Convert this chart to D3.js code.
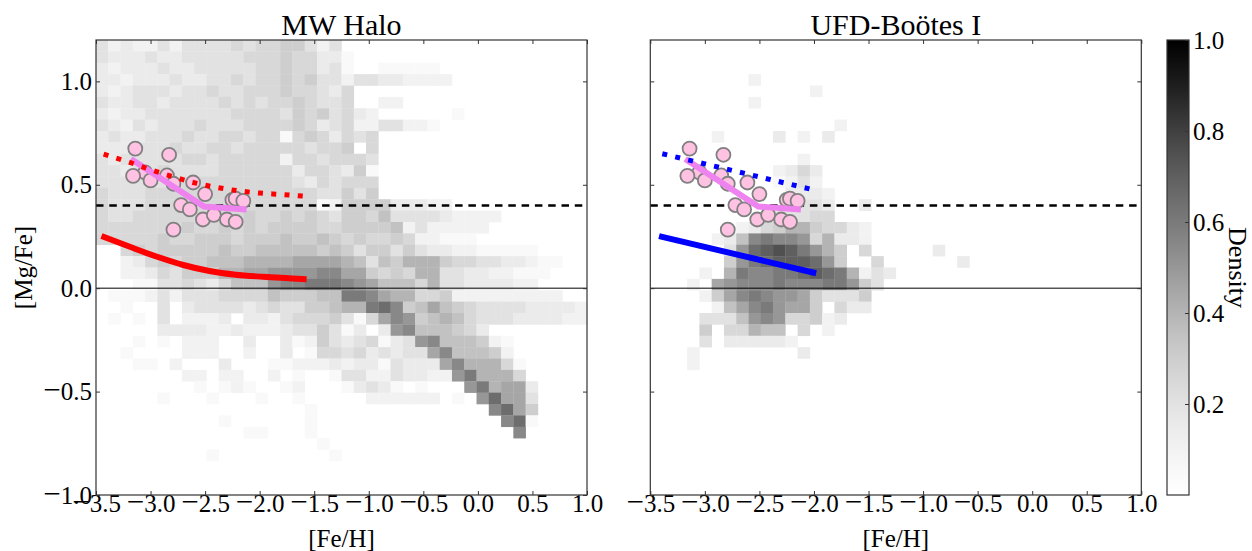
<!DOCTYPE html>
<html>
<head>
<meta charset="utf-8">
<script src="https://cdn.jsdelivr.net/npm/d3@7"></script>
<style>
  body { margin: 0; background: #fff; }
  text { font-family: "Liberation Serif", "Times New Roman", serif; fill: #000; }
</style>
</head>
<body>
<svg id="chart" width="1252" height="551"></svg>
<script>
// tick values
var feTicks = [-3.5, -3.0, -2.5, -2.0, -1.5, -1.0, -0.5, 0.0, 0.5, 1.0];
var mgTicks = [-1.0, -0.5, 0.0, 0.5, 1.0];
var cbarTicks = [0.2, 0.4, 0.6, 0.8, 1.0];

// 2D histograms, 40 x 40 bins over [Fe/H] -3.5..1.0 and [Mg/Fe] 1.2..-1.0 (top row first)
// each char is the density in units of 1/20 (base 36), 0 = empty bin
var mwGrid = [
  "4232242444454556642400000000000000000000",
  "4333433444445556553310000000000000000000",
  "3233343344444556553410011111000000000000",
  "3323334334454556564424433222200000000000",
  "3234443445445556554350000000000000000000",
  "4334434444545455654450022000000000000000",
  "3233444444455554656453200000010000000000",
  "4324344454445555653452244221000000000000",
  "3433444544554551565354500000000000000000",
  "3334445445545555545560500000000000000000",
  "4344444554555552554555400000000000000000",
  "4434454444555555355436100000000000000000",
  "4444444555555555435455500000000000000000",
  "5444555555555555554464600000000000000000",
  "5444555555555555551266663332200000000000",
  "5445555555556556565466574444322220000000",
  "5555555655656566665566667242222200000000",
  "5555565566656667667656556522111000000000",
  "0056566666766777776764664643322111110000",
  "0023565667778888999987476888655443321100",
  "00223546668899aaaabb99656588443322111000",
  "00011445435777abbcccba977758443333220000",
  "01112424445555766677ccb98855622222222200",
  "0010040344443454466788cdb679765444433332",
  "010104022230332455564159ba67875444333322",
  "000003333223222344641303ab77765300000000",
  "00010102220030031264345134ab777621000000",
  "0010000222002003015545343449b77762000000",
  "00011020003000112223233143339b8885100000",
  "00000002202200201001442243322ac888500000",
  "000000001012100120001343101000ac89930000",
  "0000010001000100100000222222010ad9940000",
  "00000000000000000100000000000000bd960000",
  "000000000010000001000000000000000bd10000",
  "0000000000001100010000000000000000b00000",
  "0000000000000000001000000000000000000000",
  "0000000001000000000100000000000000000000",
  "0000000000000000000000000000000000000000",
  "0000000000000000000000000000000000000000",
  "0000000000000000000000000000000000000000"
];

var booGrid = [
  "0000000000000000000000000000000000000000",
  "0000000000000000000000000000000000000000",
  "0000000000000000000000000000000000000000",
  "0000000020000000000000000000000000000000",
  "0000000000000200000000000000000000000000",
  "0000000020000000000000000000000000000000",
  "0000000000000000000000000000000000000000",
  "0000000000000002000000000000000000000000",
  "0000020000302030000000000000000000000000",
  "0000000000000000000000000000000000000000",
  "0000000000002000000000000000000000000000",
  "0000000000235300000000000000000000000000",
  "0000000000124200000000000000000000000000",
  "0000000000033320000000000000000000000000",
  "0000000000004430030000000000000000000000",
  "0000000003444550000000000000000000000000",
  "0000000235688655320000000000000000000000",
  "00000237bcbba583320000000000000000000000",
  "0000004adefeca86050000030000000000000000",
  "0000006acdeeeda6005000000300000000000000",
  "0000208cbbccdedc824300000000000000000000",
  "000209abbbcbbbcca64000000000000000000000",
  "0000269bcbaa9644460000000000000000000000",
  "00000279bca99605330000000000000000000000",
  "00004447aba55623000000000000000000000000",
  "0000605587705020000000000000000000000000",
  "0000403333320000000000000000000000000000",
  "0002000000003000000000000000000000000000",
  "0002000000000000000000000000000000000000",
  "0000000000000000000000000000000000000000",
  "0000000000000000000000000000000000000000",
  "0000000000000000000000000000000000000000",
  "0000000000000000000000000000000000000000",
  "0000000000000000000000000000000000000000",
  "0000000000000000000000000000000000000000",
  "0000000000000000000000000000000000000000",
  "0000000000000000000000000000000000000000",
  "0000000000000000000000000000000000000000",
  "0000000000000000000000000000000000000000",
  "0000000000000000000000000000000000000000"
];

// Boötes I stars (same in both panels)
var starsFe = [-3.14, -2.83, -3.05, -3.16, -3.00, -2.85, -2.79, -2.61, -2.50, -2.72, -2.64, -2.52, -2.42, -2.30, -2.22, -2.25, -2.22, -2.15, -2.79];
var starsMg = [0.675, 0.645, 0.560, 0.543, 0.521, 0.545, 0.505, 0.511, 0.455, 0.402, 0.381, 0.332, 0.354, 0.332, 0.321, 0.427, 0.433, 0.422, 0.283];

// running mean of the stars
var trendFe = [-3.18, -2.51, -2.12];
var trendMg = [0.625, 0.395, 0.381];

// MW halo model (solid) and canonical yields (dotted)
var mwModelFe = [-3.45, -3.19, -2.94, -2.70, -2.46, -2.22, -1.97, -1.57];
var mwModelMg = [0.252, 0.200, 0.152, 0.112, 0.083, 0.065, 0.055, 0.043];
var mwCanonFe = [-3.43, -3.20, -3.00, -2.80, -2.60, -2.40, -2.20, -2.00, -1.80, -1.60];
var mwCanonMg = [0.648, 0.610, 0.573, 0.540, 0.510, 0.488, 0.471, 0.460, 0.453, 0.445];

// Boötes I model (solid) and canonical yields (dotted)
var booModelFe = [-3.42, -1.98];
var booModelMg = [0.252, 0.072];
var booCanonFe = [-3.39, -2.00];
var booCanonMg = [0.650, 0.475];

var W = 491, H = 455, plotTop = 40;
var nBins = 40;
var binFe = 4.5 / nBins, binMg = 2.2 / nBins;

var svg = d3.select("#chart");

var x = d3.scaleLinear().domain([-3.5, 1.0]).range([0, W]);
var y = d3.scaleLinear().domain([-1.0, 1.2]).range([H, 0]);
var color = d3.scaleSequential(d3.interpolateGreys).domain([0, 1]);
var fmt = d3.format(".1f");

// long minus like the mathtext one
function styleTicks(sel) {
  sel.each(function(d) {
    var s = fmt(d), t = d3.select(this);
    t.attr("fill", "#000").style("font-family", "Liberation Serif").style("font-size", "25px");
    if (s[0] === "\u2212") {
      t.text(null);
      t.append("tspan").style("font-size", "31px").text("\u2212");
      t.append("tspan").text(s.slice(1));
    }
  });
}

var panels = [
  {x0: 96, title: "MW Halo", grid: mwGrid, yLabels: true,
   model: d3.zip(mwModelFe, mwModelMg), canon: d3.zip(mwCanonFe, mwCanonMg), col: "#ff0000"},
  {x0: 650.3, title: "UFD-Bo\u00f6tes I", grid: booGrid, yLabels: false,
   model: d3.zip(booModelFe, booModelMg), canon: d3.zip(booCanonFe, booCanonMg), col: "#0000ff"}
];

var line = d3.line()
  .x(function(d) { return x(d[0]); })
  .y(function(d) { return y(d[1]); });

panels.forEach(function(p) {
  var g = svg.append("g").attr("transform", "translate(" + p.x0 + "," + plotTop + ")");

  // histogram cells
  var cells = [];
  p.grid.forEach(function(row, r) {
    for (var c = 0; c < row.length; c++) {
      var v = parseInt(row[c], 36) / 20;
      if (v > 0) cells.push({fe: -3.5 + c * binFe, mg: 1.2 - r * binMg, v: v});
    }
  });
  g.selectAll(".cell")
      .data(cells)
    .enter().append("rect")
      .attr("class", "cell")
      .attr("x", function(d) { return x(d.fe); })
      .attr("y", function(d) { return y(d.mg); })
      .attr("width", function(d) { return x(d.fe + binFe) - x(d.fe) + 0.3; })
      .attr("height", function(d) { return y(d.mg - binMg) - y(d.mg) + 0.3; })
      .attr("fill", function(d) { return color(d.v); });

  // reference lines
  g.append("line")
      .attr("x1", 0).attr("x2", W)
      .attr("y1", y(0)).attr("y2", y(0))
      .attr("stroke", "#000").attr("stroke-width", 1);
  g.append("line")
      .attr("x1", 0).attr("x2", W)
      .attr("y1", y(0.4)).attr("y2", y(0.4))
      .attr("stroke", "#000").attr("stroke-width", 2.5)
      .attr("stroke-dasharray", "7.5,5.8");

  // stars
  g.selectAll(".star")
      .data(d3.zip(starsFe, starsMg))
    .enter().append("circle")
      .attr("class", "star")
      .attr("cx", function(d) { return x(d[0]); })
      .attr("cy", function(d) { return y(d[1]); })
      .attr("r", 7)
      .attr("fill", "#ffc2e2")
      .attr("stroke", "#808080")
      .attr("stroke-width", 1.8);

  // model lines
  g.append("path")
      .attr("d", line.curve(d3.curveMonotoneX)(p.model))
      .attr("fill", "none").attr("stroke", p.col).attr("stroke-width", 6);
  g.append("path")
      .attr("d", line.curve(d3.curveLinear)(d3.zip(trendFe, trendMg)))
      .attr("fill", "none").attr("stroke", "#ee82ee").attr("stroke-width", 6);
  g.append("path")
      .attr("d", line.curve(d3.curveMonotoneX)(p.canon))
      .attr("fill", "none").attr("stroke", p.col).attr("stroke-width", 5)
      .attr("stroke-dasharray", "5,8.3");

  // axes, ticks inward on all sides
  var xb = g.append("g")
      .attr("transform", "translate(0," + H + ")")
      .call(d3.axisBottom(x).tickValues(feTicks).tickSize(-4).tickPadding(0).tickFormat(fmt));
  xb.selectAll("text").attr("dy", "0.68em").call(styleTicks);
  g.append("g")
      .call(d3.axisTop(x).tickValues(feTicks).tickSize(-4).tickFormat(""));
  var yl = g.append("g")
      .call(d3.axisLeft(y).tickValues(mgTicks).tickSize(-4).tickPadding(4)
        .tickFormat(p.yLabels ? fmt : ""));
  if (p.yLabels) yl.selectAll("text").call(styleTicks);
  g.append("g")
      .attr("transform", "translate(" + W + ",0)")
      .call(d3.axisRight(y).tickValues(mgTicks).tickSize(-4).tickFormat(""));
  g.selectAll(".domain").remove();
  g.selectAll(".tick line").attr("stroke", "#333");

  g.append("rect")
      .attr("width", W).attr("height", H)
      .attr("fill", "none").attr("stroke", "#333").attr("stroke-width", 1.2);

  g.append("text")
      .attr("x", W / 2).attr("y", -5)
      .attr("text-anchor", "middle")
      .style("font-size", "30px")
      .text(p.title);
  g.append("text")
      .attr("x", W / 2).attr("y", 507)
      .attr("text-anchor", "middle")
      .style("font-size", "25px")
      .text("[Fe/H]");
});

svg.append("text")
    .attr("transform", "translate(32," + (plotTop + H / 2) + ") rotate(-90)")
    .attr("text-anchor", "middle")
    .style("font-size", "25px")
    .text("[Mg/Fe]");

// colorbar
var cbX = 1167, cbW = 22;
var cb = d3.scaleLinear().domain([0, 1]).range([plotTop + H, plotTop]);
var grad = svg.append("defs").append("linearGradient")
    .attr("id", "cbgrad")
    .attr("x1", 0).attr("y1", 1).attr("x2", 0).attr("y2", 0);
grad.selectAll("stop")
    .data(d3.range(0, 1.0001, 0.05))
  .enter().append("stop")
    .attr("offset", function(d) { return d; })
    .attr("stop-color", function(d) { return color(d); });
svg.append("rect")
    .attr("x", cbX).attr("y", plotTop)
    .attr("width", cbW).attr("height", H)
    .attr("fill", "url(#cbgrad)")
    .attr("stroke", "#333").attr("stroke-width", 1.2);
var cba = svg.append("g")
    .attr("transform", "translate(" + (cbX + cbW) + ",0)")
    .call(d3.axisRight(cb).tickValues(cbarTicks).tickSize(-4).tickPadding(4).tickFormat(fmt));
cba.select(".domain").remove();
cba.selectAll(".tick line").attr("stroke", "#333");
cba.selectAll("text").call(styleTicks);

svg.append("text")
    .attr("transform", "translate(1229," + (plotTop + H / 2) + ") rotate(90)")
    .attr("text-anchor", "middle")
    .style("font-size", "26px")
    .text("Density");
</script>
</body>
</html>
